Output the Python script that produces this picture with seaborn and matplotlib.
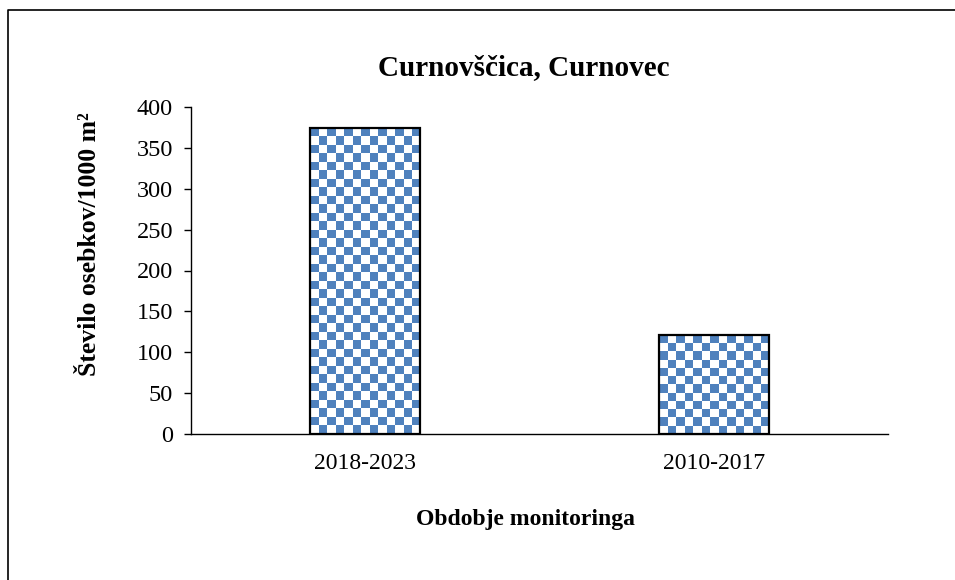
import numpy as np
import pandas as pd
import matplotlib
matplotlib.use('Agg')
import matplotlib.pyplot as plt
import seaborn as sns
from matplotlib.lines import Line2D

# Podatki
obdobja = ['2018-2023', '2010-2017']
gostota = [374, 121]

naslov = 'Curnovščica, Curnovec'
x_oznaka = 'Obdobje monitoringa'
y_oznaka = 'Število osebkov/1000 m²'
y_ticks = [0, 50, 100, 150, 200, 250, 300, 350, 400]

modra = '#4F81BD'

sns.set_style('white')
plt.rcParams['font.family'] = ['Liberation Serif', 'DejaVu Serif']
plt.rcParams['text.color'] = 'black'
plt.rcParams['xtick.color'] = 'black'
plt.rcParams['ytick.color'] = 'black'

df = pd.DataFrame({'Obdobje': obdobja, 'Gostota': gostota})

fig = plt.figure(figsize=(9.55, 5.8), dpi=100)
ax = fig.add_axes([191 / 955, 1 - 434 / 580, 697 / 955, 327 / 580])

sns.barplot(x='Obdobje', y='Gostota', data=df, color='white', width=0.316,
            edgecolor='black', linewidth=1.6, ax=ax)

ax.set_ylim(0, 400)
ax.set_xlim(-0.5, 1.5)
ax.set_yticks(y_ticks)

# Šahovnica znotraj stolpcev (vzorec kot v Excelu)
renderer = fig.canvas.get_renderer()
for patch in ax.patches:
    ext = patch.get_window_extent(renderer)
    nx = max(1, int(round(ext.width / 8.5)))
    ny = max(1, int(round(ext.height / 8.5)))
    grid = (np.indices((ny, nx)).sum(axis=0) + 1) % 2
    x0 = patch.get_x()
    w = patch.get_width()
    h = patch.get_height()
    img = ax.imshow(grid, cmap=matplotlib.colors.ListedColormap(['white', modra]),
                    extent=(x0, x0 + w, 0, h), aspect='auto',
                    interpolation='nearest', origin='upper', zorder=1)
    img.set_clip_path(patch)
    patch.set_facecolor('none')
    patch.set_zorder(2)

ax.set_ylim(0, 400)
ax.set_xlim(-0.5, 1.5)

# Osi
for s in ['top', 'right']:
    ax.spines[s].set_visible(False)
for s in ['left', 'bottom']:
    ax.spines[s].set_color('black')
    ax.spines[s].set_linewidth(1.0)

ax.tick_params(axis='y', which='major', left=True, length=5, width=1,
               color='black', labelcolor='black', labelsize=17.5, pad=8)
ax.tick_params(axis='x', bottom=False, labelcolor='black', labelsize=17, pad=10)
ax.set_xlabel('')
ax.set_ylabel('')

fig.text(524 / 955, 1 - 68 / 580, naslov, ha='center', va='center',
         fontsize=21, fontweight='bold', color='black')
fig.text(525 / 955, 1 - 520 / 580, x_oznaka, ha='center', va='center',
         fontsize=17, fontweight='bold', color='black')
fig.text(90 / 955, 1 - 244 / 580, y_oznaka, ha='center', va='center',
         rotation=90, fontsize=18.5, fontweight='bold', color='black')

# Okvir grafikona
fig.add_artist(Line2D([7.5 / 955, 7.5 / 955, 1.0], [0.0, 1 - 9.5 / 580, 1 - 9.5 / 580],
                      transform=fig.transFigure, color='black', linewidth=1.2))

fig.savefig('out.png', dpi=100, facecolor='white')
